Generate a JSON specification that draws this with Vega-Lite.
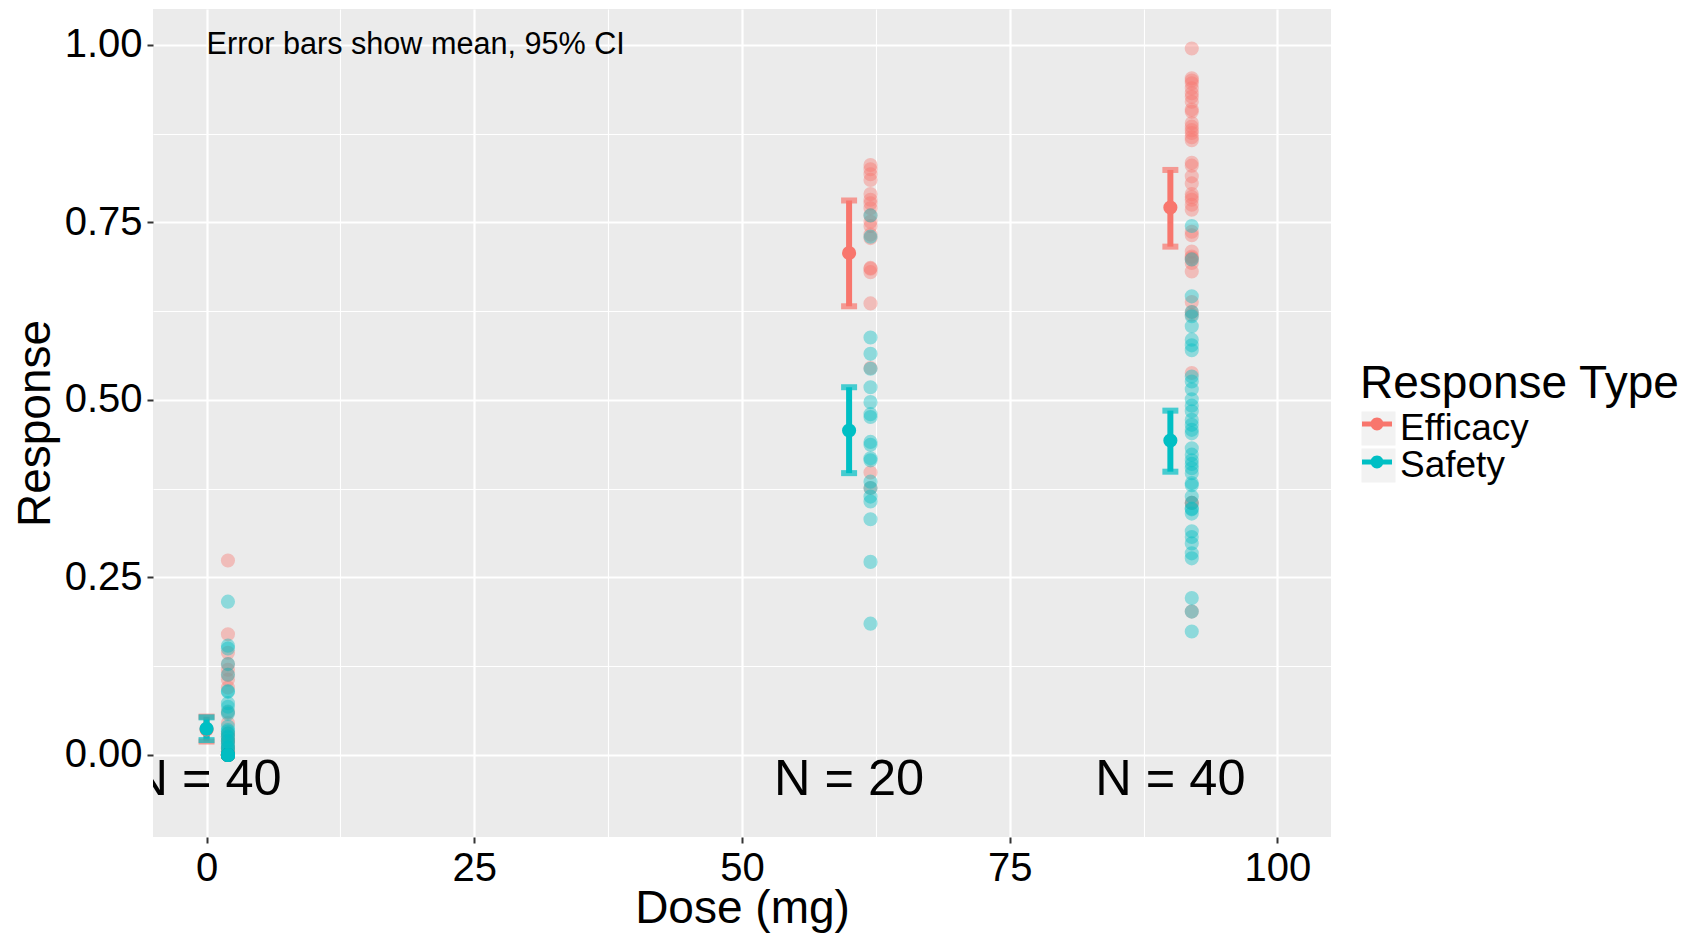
{
  "$schema": "https://vega.github.io/schema/vega-lite/v6.json",
  "width": 1178,
  "height": 828,
  "autosize": {"type": "none"},
  "padding": {"left": 153, "top": 9, "right": 373, "bottom": 96},
  "background": "#FFFFFF",
  "datasets": {
    "subjects": [
      {"dose": 0, "type": "Efficacy", "response": 0.274}, {"dose": 0, "type": "Efficacy", "response": 0.170}, {"dose": 0, "type": "Efficacy", "response": 0.144}, {"dose": 0, "type": "Efficacy", "response": 0.128},
      {"dose": 0, "type": "Efficacy", "response": 0.120}, {"dose": 0, "type": "Efficacy", "response": 0.113}, {"dose": 0, "type": "Efficacy", "response": 0.106}, {"dose": 0, "type": "Efficacy", "response": 0.095},
      {"dose": 0, "type": "Efficacy", "response": 0.060}, {"dose": 0, "type": "Efficacy", "response": 0.045}, {"dose": 0, "type": "Efficacy", "response": 0.030}, {"dose": 0, "type": "Efficacy", "response": 0.025},
      {"dose": 0, "type": "Efficacy", "response": 0.020}, {"dose": 0, "type": "Efficacy", "response": 0.015}, {"dose": 0, "type": "Efficacy", "response": 0.010}, {"dose": 0, "type": "Efficacy", "response": 0.005},
      {"dose": 0, "type": "Efficacy", "response": 0.010}, {"dose": 0, "type": "Efficacy", "response": 0.010}, {"dose": 0, "type": "Efficacy", "response": 0.020}, {"dose": 0, "type": "Efficacy", "response": 0.020},
      {"dose": 0, "type": "Efficacy", "response": 0.030}, {"dose": 0, "type": "Efficacy", "response": 0.005}, {"dose": 0, "type": "Efficacy", "response": 0}, {"dose": 0, "type": "Efficacy", "response": 0},
      {"dose": 0, "type": "Efficacy", "response": 0}, {"dose": 0, "type": "Efficacy", "response": 0}, {"dose": 0, "type": "Efficacy", "response": 0}, {"dose": 0, "type": "Efficacy", "response": 0},
      {"dose": 0, "type": "Efficacy", "response": 0}, {"dose": 0, "type": "Efficacy", "response": 0}, {"dose": 0, "type": "Efficacy", "response": 0}, {"dose": 0, "type": "Efficacy", "response": 0},
      {"dose": 0, "type": "Efficacy", "response": 0}, {"dose": 0, "type": "Efficacy", "response": 0}, {"dose": 0, "type": "Efficacy", "response": 0}, {"dose": 0, "type": "Efficacy", "response": 0},
      {"dose": 0, "type": "Efficacy", "response": 0}, {"dose": 0, "type": "Efficacy", "response": 0}, {"dose": 0, "type": "Efficacy", "response": 0}, {"dose": 0, "type": "Efficacy", "response": 0},

      {"dose": 0, "type": "Safety", "response": 0.216}, {"dose": 0, "type": "Safety", "response": 0.154}, {"dose": 0, "type": "Safety", "response": 0.150}, {"dose": 0, "type": "Safety", "response": 0.128},
      {"dose": 0, "type": "Safety", "response": 0.113}, {"dose": 0, "type": "Safety", "response": 0.090}, {"dose": 0, "type": "Safety", "response": 0.089}, {"dose": 0, "type": "Safety", "response": 0.073},
      {"dose": 0, "type": "Safety", "response": 0.068}, {"dose": 0, "type": "Safety", "response": 0.061}, {"dose": 0, "type": "Safety", "response": 0.058}, {"dose": 0, "type": "Safety", "response": 0.033},
      {"dose": 0, "type": "Safety", "response": 0.030}, {"dose": 0, "type": "Safety", "response": 0.026}, {"dose": 0, "type": "Safety", "response": 0.019}, {"dose": 0, "type": "Safety", "response": 0.012},
      {"dose": 0, "type": "Safety", "response": 0.005}, {"dose": 0, "type": "Safety", "response": 0.040}, {"dose": 0, "type": "Safety", "response": 0.035}, {"dose": 0, "type": "Safety", "response": 0.025},
      {"dose": 0, "type": "Safety", "response": 0.020}, {"dose": 0, "type": "Safety", "response": 0.015}, {"dose": 0, "type": "Safety", "response": 0.010}, {"dose": 0, "type": "Safety", "response": 0.010},
      {"dose": 0, "type": "Safety", "response": 0}, {"dose": 0, "type": "Safety", "response": 0}, {"dose": 0, "type": "Safety", "response": 0}, {"dose": 0, "type": "Safety", "response": 0},
      {"dose": 0, "type": "Safety", "response": 0}, {"dose": 0, "type": "Safety", "response": 0}, {"dose": 0, "type": "Safety", "response": 0}, {"dose": 0, "type": "Safety", "response": 0},
      {"dose": 0, "type": "Safety", "response": 0}, {"dose": 0, "type": "Safety", "response": 0}, {"dose": 0, "type": "Safety", "response": 0}, {"dose": 0, "type": "Safety", "response": 0},
      {"dose": 0, "type": "Safety", "response": 0}, {"dose": 0, "type": "Safety", "response": 0}, {"dose": 0, "type": "Safety", "response": 0}, {"dose": 0, "type": "Safety", "response": 0},

      {"dose": 60, "type": "Efficacy", "response": 0.831}, {"dose": 60, "type": "Efficacy", "response": 0.825}, {"dose": 60, "type": "Efficacy", "response": 0.818}, {"dose": 60, "type": "Efficacy", "response": 0.810},
      {"dose": 60, "type": "Efficacy", "response": 0.790}, {"dose": 60, "type": "Efficacy", "response": 0.782}, {"dose": 60, "type": "Efficacy", "response": 0.777}, {"dose": 60, "type": "Efficacy", "response": 0.770},
      {"dose": 60, "type": "Efficacy", "response": 0.760}, {"dose": 60, "type": "Efficacy", "response": 0.751}, {"dose": 60, "type": "Efficacy", "response": 0.745}, {"dose": 60, "type": "Efficacy", "response": 0.733},
      {"dose": 60, "type": "Efficacy", "response": 0.728}, {"dose": 60, "type": "Efficacy", "response": 0.686}, {"dose": 60, "type": "Efficacy", "response": 0.685}, {"dose": 60, "type": "Efficacy", "response": 0.680},
      {"dose": 60, "type": "Efficacy", "response": 0.636}, {"dose": 60, "type": "Efficacy", "response": 0.545}, {"dose": 60, "type": "Efficacy", "response": 0.398}, {"dose": 60, "type": "Efficacy", "response": 0.376},

      {"dose": 60, "type": "Safety", "response": 0.760}, {"dose": 60, "type": "Safety", "response": 0.730}, {"dose": 60, "type": "Safety", "response": 0.588}, {"dose": 60, "type": "Safety", "response": 0.565},
      {"dose": 60, "type": "Safety", "response": 0.544}, {"dose": 60, "type": "Safety", "response": 0.518}, {"dose": 60, "type": "Safety", "response": 0.497}, {"dose": 60, "type": "Safety", "response": 0.480},
      {"dose": 60, "type": "Safety", "response": 0.476}, {"dose": 60, "type": "Safety", "response": 0.441}, {"dose": 60, "type": "Safety", "response": 0.437}, {"dose": 60, "type": "Safety", "response": 0.418},
      {"dose": 60, "type": "Safety", "response": 0.415}, {"dose": 60, "type": "Safety", "response": 0.385}, {"dose": 60, "type": "Safety", "response": 0.376}, {"dose": 60, "type": "Safety", "response": 0.364},
      {"dose": 60, "type": "Safety", "response": 0.357}, {"dose": 60, "type": "Safety", "response": 0.332}, {"dose": 60, "type": "Safety", "response": 0.272}, {"dose": 60, "type": "Safety", "response": 0.185},

      {"dose": 90, "type": "Efficacy", "response": 0.995}, {"dose": 90, "type": "Efficacy", "response": 0.953}, {"dose": 90, "type": "Efficacy", "response": 0.950}, {"dose": 90, "type": "Efficacy", "response": 0.946},
      {"dose": 90, "type": "Efficacy", "response": 0.939}, {"dose": 90, "type": "Efficacy", "response": 0.932}, {"dose": 90, "type": "Efficacy", "response": 0.927}, {"dose": 90, "type": "Efficacy", "response": 0.920},
      {"dose": 90, "type": "Efficacy", "response": 0.909}, {"dose": 90, "type": "Efficacy", "response": 0.906}, {"dose": 90, "type": "Efficacy", "response": 0.890}, {"dose": 90, "type": "Efficacy", "response": 0.885},
      {"dose": 90, "type": "Efficacy", "response": 0.880}, {"dose": 90, "type": "Efficacy", "response": 0.876}, {"dose": 90, "type": "Efficacy", "response": 0.870}, {"dose": 90, "type": "Efficacy", "response": 0.866},
      {"dose": 90, "type": "Efficacy", "response": 0.834}, {"dose": 90, "type": "Efficacy", "response": 0.830}, {"dose": 90, "type": "Efficacy", "response": 0.815}, {"dose": 90, "type": "Efficacy", "response": 0.805},
      {"dose": 90, "type": "Efficacy", "response": 0.790}, {"dose": 90, "type": "Efficacy", "response": 0.786}, {"dose": 90, "type": "Efficacy", "response": 0.782}, {"dose": 90, "type": "Efficacy", "response": 0.775},
      {"dose": 90, "type": "Efficacy", "response": 0.768}, {"dose": 90, "type": "Efficacy", "response": 0.737}, {"dose": 90, "type": "Efficacy", "response": 0.732}, {"dose": 90, "type": "Efficacy", "response": 0.709},
      {"dose": 90, "type": "Efficacy", "response": 0.702}, {"dose": 90, "type": "Efficacy", "response": 0.700}, {"dose": 90, "type": "Efficacy", "response": 0.698}, {"dose": 90, "type": "Efficacy", "response": 0.693},
      {"dose": 90, "type": "Efficacy", "response": 0.681}, {"dose": 90, "type": "Efficacy", "response": 0.638}, {"dose": 90, "type": "Efficacy", "response": 0.624}, {"dose": 90, "type": "Efficacy", "response": 0.620},
      {"dose": 90, "type": "Efficacy", "response": 0.538}, {"dose": 90, "type": "Efficacy", "response": 0.355}, {"dose": 90, "type": "Efficacy", "response": 0.355}, {"dose": 90, "type": "Efficacy", "response": 0.202},

      {"dose": 90, "type": "Safety", "response": 0.745}, {"dose": 90, "type": "Safety", "response": 0.698}, {"dose": 90, "type": "Safety", "response": 0.646}, {"dose": 90, "type": "Safety", "response": 0.624},
      {"dose": 90, "type": "Safety", "response": 0.618}, {"dose": 90, "type": "Safety", "response": 0.604}, {"dose": 90, "type": "Safety", "response": 0.585}, {"dose": 90, "type": "Safety", "response": 0.577},
      {"dose": 90, "type": "Safety", "response": 0.570}, {"dose": 90, "type": "Safety", "response": 0.533}, {"dose": 90, "type": "Safety", "response": 0.526}, {"dose": 90, "type": "Safety", "response": 0.515},
      {"dose": 90, "type": "Safety", "response": 0.501}, {"dose": 90, "type": "Safety", "response": 0.492}, {"dose": 90, "type": "Safety", "response": 0.484}, {"dose": 90, "type": "Safety", "response": 0.472},
      {"dose": 90, "type": "Safety", "response": 0.465}, {"dose": 90, "type": "Safety", "response": 0.458}, {"dose": 90, "type": "Safety", "response": 0.453}, {"dose": 90, "type": "Safety", "response": 0.432},
      {"dose": 90, "type": "Safety", "response": 0.423}, {"dose": 90, "type": "Safety", "response": 0.415}, {"dose": 90, "type": "Safety", "response": 0.410}, {"dose": 90, "type": "Safety", "response": 0.404},
      {"dose": 90, "type": "Safety", "response": 0.397}, {"dose": 90, "type": "Safety", "response": 0.383}, {"dose": 90, "type": "Safety", "response": 0.380}, {"dose": 90, "type": "Safety", "response": 0.364},
      {"dose": 90, "type": "Safety", "response": 0.355}, {"dose": 90, "type": "Safety", "response": 0.347}, {"dose": 90, "type": "Safety", "response": 0.346}, {"dose": 90, "type": "Safety", "response": 0.340},
      {"dose": 90, "type": "Safety", "response": 0.315}, {"dose": 90, "type": "Safety", "response": 0.307}, {"dose": 90, "type": "Safety", "response": 0.298}, {"dose": 90, "type": "Safety", "response": 0.284},
      {"dose": 90, "type": "Safety", "response": 0.277}, {"dose": 90, "type": "Safety", "response": 0.221}, {"dose": 90, "type": "Safety", "response": 0.202}, {"dose": 90, "type": "Safety", "response": 0.174}
    ],
    "summary": [
      {"dose": 0, "type": "Efficacy", "mean": 0.036, "lo": 0.019, "hi": 0.054},
      {"dose": 0, "type": "Safety", "mean": 0.037, "lo": 0.021, "hi": 0.053},
      {"dose": 60, "type": "Efficacy", "mean": 0.707, "lo": 0.632, "hi": 0.781},
      {"dose": 60, "type": "Safety", "mean": 0.457, "lo": 0.397, "hi": 0.518},
      {"dose": 90, "type": "Efficacy", "mean": 0.771, "lo": 0.716, "hi": 0.824},
      {"dose": 90, "type": "Safety", "mean": 0.443, "lo": 0.399, "hi": 0.485}
    ],
    "counts": [
      {"dose": 0, "label": "N = 40"},
      {"dose": 60, "label": "N = 20"},
      {"dose": 90, "label": "N = 40"}
    ]
  },
  "layer": [
    {
      "data": {"name": "summary"},
      "mark": {"type": "square", "size": 0, "opacity": 0},
      "encoding": {
        "x": {"field": "dose", "type": "quantitative", "scale": {"domain": [-5, 105], "nice": false, "zero": false}, "axis": null},
        "y": {"field": "mean", "type": "quantitative", "scale": {"domain": [-0.1155, 1.0507], "nice": false, "zero": false}, "axis": null},
        "fill": {
          "field": "type", "type": "nominal",
          "scale": {"domain": ["Efficacy", "Safety"], "range": ["#F2F2F2", "#F2F2F2"]},
          "legend": {
            "title": "Response Type",
            "orient": "none", "legendX": 1207, "legendY": 353,
            "padding": 0,
            "symbolType": "square", "symbolSize": 1156, "symbolOpacity": 1, "symbolStrokeWidth": 0,
            "labelFontSize": 37, "labelOffset": 3, "labelColor": "#000000", "labelLimit": 0,
            "titleFontSize": 46, "titleFontWeight": "normal", "titleColor": "#000000", "titlePadding": 2, "titleLimit": 0,
            "rowPadding": -1
          }
        }
      }
    },
    {
      "data": {"name": "subjects"},
      "mark": {"type": "circle", "size": 200, "opacity": 0.4, "xOffset": 21.4},
      "encoding": {
        "x": {
          "field": "dose", "type": "quantitative",
          "scale": {"domain": [-5, 105], "nice": false, "zero": false},
          "axis": {"orient": "bottom", "values": [12.5, 37.5, 62.5, 87.5], "grid": true, "gridWidth": 1.1, "labels": false, "ticks": false, "domain": false, "title": null}
        },
        "y": {
          "field": "response", "type": "quantitative",
          "scale": {"domain": [-0.1155, 1.0507], "nice": false, "zero": false},
          "axis": {"orient": "left", "values": [0.125, 0.375, 0.625, 0.875], "grid": true, "gridWidth": 1.1, "labels": false, "ticks": false, "domain": false, "title": null}
        },
        "color": {"field": "type", "type": "nominal", "scale": {"domain": ["Efficacy", "Safety"], "range": ["#F8766D", "#00BFC4"]}, "legend": null}
      }
    },
    {
      "data": {"name": "summary"},
      "mark": {"type": "rule", "strokeWidth": 6},
      "encoding": {
        "x": {
          "field": "dose", "type": "quantitative",
          "scale": {"domain": [-5, 105], "nice": false, "zero": false},
          "axis": {"orient": "bottom", "values": [0, 25, 50, 75, 100], "grid": true, "gridWidth": 2.2, "title": "Dose (mg)"}
        },
        "y": {
          "field": "lo", "type": "quantitative",
          "scale": {"domain": [-0.1155, 1.0507], "nice": false, "zero": false},
          "axis": {"orient": "left", "values": [0, 0.25, 0.5, 0.75, 1], "format": ".2f", "grid": true, "gridWidth": 2.2, "title": "Response"}
        },
        "y2": {"field": "hi"},
        "color": {"field": "type", "type": "nominal", "scale": {"domain": ["Efficacy", "Safety"], "range": ["#F8766D", "#00BFC4"]}, "legend": null}
      }
    },
    {
      "data": {"name": "summary"},
      "mark": {"type": "tick", "orient": "horizontal", "size": 16, "thickness": 6},
      "encoding": {
        "x": {"field": "dose", "type": "quantitative", "scale": {"domain": [-5, 105], "nice": false, "zero": false}, "axis": null},
        "y": {"field": "lo", "type": "quantitative", "scale": {"domain": [-0.1155, 1.0507], "nice": false, "zero": false}, "axis": null},
        "color": {"field": "type", "type": "nominal", "scale": {"domain": ["Efficacy", "Safety"], "range": ["#F8766D", "#00BFC4"]}, "legend": null}
      }
    },
    {
      "data": {"name": "summary"},
      "mark": {"type": "tick", "orient": "horizontal", "size": 16, "thickness": 6},
      "encoding": {
        "x": {"field": "dose", "type": "quantitative", "scale": {"domain": [-5, 105], "nice": false, "zero": false}, "axis": null},
        "y": {"field": "hi", "type": "quantitative", "scale": {"domain": [-0.1155, 1.0507], "nice": false, "zero": false}, "axis": null},
        "color": {"field": "type", "type": "nominal", "scale": {"domain": ["Efficacy", "Safety"], "range": ["#F8766D", "#00BFC4"]}, "legend": null}
      }
    },
    {
      "data": {"name": "summary"},
      "mark": {"type": "circle", "size": 200, "opacity": 1},
      "encoding": {
        "x": {"field": "dose", "type": "quantitative", "scale": {"domain": [-5, 105], "nice": false, "zero": false}, "axis": null},
        "y": {"field": "mean", "type": "quantitative", "scale": {"domain": [-0.1155, 1.0507], "nice": false, "zero": false}, "axis": null},
        "color": {
          "field": "type", "type": "nominal",
          "scale": {"domain": ["Efficacy", "Safety"], "range": ["#F8766D", "#00BFC4"]},
          "legend": {
            "title": null,
            "orient": "none", "legendX": 1209, "legendY": 400,
            "padding": 0,
            "symbolType": "M-1,-0.17H1V0.17H-1Z M0.43,0A0.43,0.43,0,1,1,-0.43,0A0.43,0.43,0,1,1,0.43,0Z",
            "symbolSize": 900, "symbolOpacity": 1, "symbolStrokeWidth": 0,
            "labelExpr": "''", "labelFontSize": 1,
            "rowPadding": 16
          }
        }
      }
    },
    {
      "data": {"name": "counts"},
      "mark": {"type": "text", "fontSize": 50.5, "clip": true, "align": "center", "baseline": "middle", "color": "#000000"},
      "encoding": {
        "x": {"field": "dose", "type": "quantitative", "scale": {"domain": [-5, 105], "nice": false, "zero": false}, "axis": null},
        "y": {"datum": -0.035, "type": "quantitative", "scale": {"domain": [-0.1155, 1.0507], "nice": false, "zero": false}, "axis": null},
        "text": {"field": "label"}
      }
    },
    {
      "data": {"values": [{"note": "Error bars show mean, 95% CI"}]},
      "mark": {"type": "text", "fontSize": 30.6, "align": "left", "baseline": "middle", "color": "#000000"},
      "encoding": {
        "x": {"datum": 0, "type": "quantitative", "scale": {"domain": [-5, 105], "nice": false, "zero": false}, "axis": null},
        "y": {"datum": 1, "type": "quantitative", "scale": {"domain": [-0.1155, 1.0507], "nice": false, "zero": false}, "axis": null},
        "text": {"field": "note"}
      }
    }
  ],
  "resolve": {
    "axis": {"x": "independent", "y": "independent"},
    "legend": {"color": "independent", "fill": "independent"}
  },
  "config": {
    "font": "Liberation Sans",
    "view": {"fill": "#EBEBEB", "stroke": null},
    "axis": {
      "domain": false,
      "gridColor": "#FFFFFF",
      "gridOpacity": 1,
      "tickColor": "#333333",
      "tickWidth": 2,
      "tickSize": 6,
      "labelColor": "#000000",
      "labelFontSize": 40,
      "labelPadding": 5,
      "labelFlush": false,
      "labelOverlap": false,
      "titleColor": "#000000",
      "titleFontSize": 46,
      "titleFontWeight": "normal"
    },
    "axisX": {"titlePadding": -2},
    "axisY": {"titlePadding": 5}
  }
}
